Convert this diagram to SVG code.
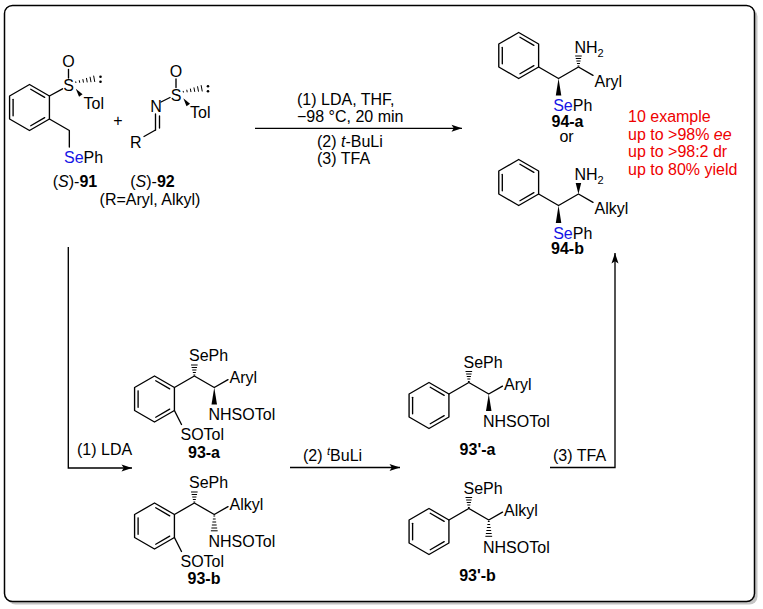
<svg xmlns="http://www.w3.org/2000/svg" xmlns:xlink="http://www.w3.org/1999/xlink" width="763" height="609" viewBox="0 0 763 609">
<style>
text{font-family:"Liberation Sans",Arial,Helvetica,sans-serif;font-size:16px;fill:#000}
.m{text-anchor:middle}
.b{font-weight:bold}
.i{font-style:italic}
.se{fill:#1515e6}
.red{fill:#ee0000}
.bd{stroke:#000;stroke-width:1.35;fill:none;stroke-linecap:round;stroke-linejoin:round}
.wd{fill:#000;stroke:none}
.cn{stroke:#000;stroke-width:1.35;fill:none}
</style>
<defs>
<marker id="ah" markerWidth="12" markerHeight="8" refX="11" refY="4" orient="auto" markerUnits="userSpaceOnUse">
<path d="M0.5,0.5 L11,4 L0.5,7.5 L2.8,4 Z" fill="#000"/>
</marker>
<g id="bz" class="bd">
<polygon points="0,-23 19.92,-11.5 19.92,11.5 0,23 -19.92,11.5 -19.92,-11.5"/>
<line x1="-16.4" y1="-8.2" x2="-16.4" y2="8.2"/>
<line x1="1.24" y1="-18.25" x2="15.18" y2="-10.2"/>
<line x1="15.18" y1="10.2" x2="1.24" y2="18.25"/>
</g>
<g id="sulf">
<line class="bd" x1="0" y1="-16" x2="0" y2="-7.5"/>
<g stroke="#000" stroke-width="1">
<line x1="7.16" y1="-4.09" x2="7.44" y2="-2.51"/>
<line x1="10.75" y1="-5.24" x2="11.21" y2="-2.72"/>
<line x1="14.34" y1="-6.39" x2="14.98" y2="-2.93"/>
<line x1="17.93" y1="-7.54" x2="18.75" y2="-3.14"/>
<line x1="21.52" y1="-8.7" x2="22.52" y2="-3.34"/>
<line x1="25.12" y1="-9.85" x2="26.28" y2="-3.55"/>
</g>
<circle cx="32" cy="-8.8" r="1.3" fill="#000"/>
<circle cx="32" cy="-3.8" r="1.3" fill="#000"/>
<polygon class="wd" points="7.3,3.3 14.06,8.68 10.54,11.32"/>
</g>
<g id="hu" stroke="#000" stroke-width="1">
<line x1="-0.9" y1="-1" x2="0.9" y2="-1"/>
<line x1="-1.5" y1="-3.5" x2="1.5" y2="-3.5"/>
<line x1="-2.1" y1="-6" x2="2.1" y2="-6"/>
<line x1="-2.7" y1="-8.5" x2="2.7" y2="-8.5"/>
<line x1="-3.3" y1="-11" x2="3.3" y2="-11"/>
</g>
<g id="hd" stroke="#000" stroke-width="1">
<line x1="-0.9" y1="1.5" x2="0.9" y2="1.5"/>
<line x1="-1.4" y1="4.5" x2="1.4" y2="4.5"/>
<line x1="-1.9" y1="7.5" x2="1.9" y2="7.5"/>
<line x1="-2.4" y1="10.5" x2="2.4" y2="10.5"/>
<line x1="-2.9" y1="13.5" x2="2.9" y2="13.5"/>
<line x1="-3.4" y1="16.3" x2="3.4" y2="16.3"/>
</g>
</defs>

<rect x="7.5" y="8.5" width="750" height="596" rx="8" fill="#c4c4c4"/>
<rect x="4.5" y="5.5" width="750" height="596" rx="8" fill="#fff" stroke="#000" stroke-width="1.5"/>

<g id="connectors">
<line class="cn" x1="255" y1="128.3" x2="462" y2="128.3" marker-end="url(#ah)"/>
<path class="cn" d="M68.3,247 V468 H132" marker-end="url(#ah)"/>
<line class="cn" x1="290" y1="467.5" x2="400" y2="467.5" marker-end="url(#ah)"/>
<path class="cn" d="M550,467.5 H615 V253" marker-end="url(#ah)"/>
</g>

<g id="conditions">
<text x="297" y="105">(1) LDA, THF,</text>
<text x="297" y="122">−98 °C, 20 min</text>
<text x="317" y="146.5">(2) <tspan class="i">t</tspan>-BuLi</text>
<text x="317" y="163.5">(3) TFA</text>
<text x="77" y="455">(1) LDA</text>
<text x="303" y="461">(2) <tspan class="i" font-size="11" dy="-6">t</tspan><tspan dy="6">BuLi</tspan></text>
<text x="553" y="461">(3) TFA</text>
</g>

<g id="c91">
<use xlink:href="#bz" href="#bz" x="29.5" y="107.5"/>
<line class="bd" x1="49.42" y1="96" x2="62.5" y2="88.8"/>
<polyline class="bd" points="49.42,119 69.34,130.5 69.34,147"/>
<use xlink:href="#sulf" href="#sulf" x="68.5" y="85.5"/>
<text class="m" x="68.5" y="66.7">O</text>
<text class="m" x="68.5" y="91.2">S</text>
<text x="83.5" y="108.5">Tol</text>
<text x="64" y="163"><tspan class="se">Se</tspan>Ph</text>
<text class="m" x="75" y="187">(<tspan class="i">S</tspan>)-<tspan class="b">91</tspan></text>
</g>

<text class="m" x="118" y="125.5">+</text>

<g id="c92">
<use xlink:href="#sulf" href="#sulf" x="176" y="95"/>
<text class="m" x="176" y="76.7">O</text>
<text class="m" x="176" y="100.7">S</text>
<text x="190" y="118">Tol</text>
<text class="m" x="156" y="112.2">N</text>
<line class="bd" x1="161" y1="102" x2="170" y2="97.5"/>
<line class="bd" x1="155.5" y1="114" x2="155.5" y2="130"/>
<line class="bd" x1="159.5" y1="116" x2="159.5" y2="128"/>
<line class="bd" x1="155.5" y1="130" x2="144" y2="136.5"/>
<text class="m" x="135.8" y="147.5">R</text>
<text class="m" x="152.5" y="187">(<tspan class="i">S</tspan>)-<tspan class="b">92</tspan></text>
<text class="m" x="150" y="205">(R=Aryl, Alkyl)</text>
</g>

<g id="c94a">
<use xlink:href="#bz" href="#bz" x="518.7" y="55.5"/>
<polyline class="bd" points="538.62,67 558.54,78.5 578.46,67 593,75.4"/>
<use xlink:href="#hu" href="#hu" x="578.46" y="67"/>
<polygon class="wd" points="558.54,78.5 555.8,95.5 561.3,95.5"/>
<text x="574.5" y="53">NH<tspan font-size="11" dy="4">2</tspan></text>
<text x="594.5" y="86.5">Aryl</text>
<text x="553.2" y="110.5"><tspan class="se">Se</tspan>Ph</text>
<text class="m b" x="567.5" y="126.5">94-a</text>
<text class="m" x="566.5" y="142">or</text>
</g>

<g id="c94b">
<use xlink:href="#bz" href="#bz" x="518.7" y="182.5"/>
<polyline class="bd" points="538.62,194 558.54,205.5 578.46,194 593,202.4"/>
<polygon class="wd" points="578.46,194 575.7,183 581.2,183"/>
<polygon class="wd" points="558.54,205.5 555.8,223 561.3,223"/>
<text x="574.5" y="180">NH<tspan font-size="11" dy="4">2</tspan></text>
<text x="594.5" y="213.5">Alkyl</text>
<text x="553.2" y="238.5"><tspan class="se">Se</tspan>Ph</text>
<text class="m b" x="567.5" y="254">94-b</text>
</g>

<g id="results">
<text class="red" x="628" y="122">10 example</text>
<text class="red" x="628" y="139.5">up to &gt;98% <tspan class="i">ee</tspan></text>
<text class="red" x="628" y="157">up to &gt;98:2 dr</text>
<text class="red" x="628" y="174.5">up to 80% yield</text>
</g>

<g id="c93a">
<use xlink:href="#bz" href="#bz" x="154.5" y="399"/>
<polyline class="bd" points="174.42,387.5 194.34,376 214.26,387.5 228,379.6"/>
<line class="bd" x1="174.42" y1="410.5" x2="181.5" y2="424.5"/>
<use xlink:href="#hu" href="#hu" x="194.34" y="376"/>
<polygon class="wd" points="214.26,387.5 211.5,404.5 217,404.5"/>
<text x="189" y="361">SePh</text>
<text x="229.5" y="383">Aryl</text>
<text x="208.5" y="420">NHSOTol</text>
<text x="180.5" y="440">SOTol</text>
<text class="m b" x="204" y="458">93-a</text>
</g>

<g id="c93b">
<use xlink:href="#bz" href="#bz" x="154.5" y="526"/>
<polyline class="bd" points="174.42,514.5 194.34,503 214.26,514.5 228,506.6"/>
<line class="bd" x1="174.42" y1="537.5" x2="181.5" y2="551.5"/>
<use xlink:href="#hu" href="#hu" x="194.34" y="503"/>
<use xlink:href="#hd" href="#hd" x="214.26" y="514.5"/>
<text x="189" y="488">SePh</text>
<text x="229.5" y="510">Alkyl</text>
<text x="208.5" y="547">NHSOTol</text>
<text x="180.5" y="567">SOTol</text>
<text class="m b" x="204" y="584">93-b</text>
</g>

<g id="c93pa">
<use xlink:href="#bz" href="#bz" x="429" y="405.5"/>
<polyline class="bd" points="448.92,394 468.84,382.5 488.76,394 502.5,386.1"/>
<use xlink:href="#hu" href="#hu" x="468.84" y="382.5"/>
<polygon class="wd" points="488.76,394 486,411 491.5,411"/>
<text x="463.5" y="367.5">SePh</text>
<text x="504" y="390">Aryl</text>
<text x="483" y="427">NHSOTol</text>
<text class="m b" x="477.5" y="455">93'-a</text>
</g>

<g id="c93pb">
<use xlink:href="#bz" href="#bz" x="429" y="531.5"/>
<polyline class="bd" points="448.92,520 468.84,508.5 488.76,520 502.5,512.1"/>
<use xlink:href="#hu" href="#hu" x="468.84" y="508.5"/>
<use xlink:href="#hd" href="#hd" x="488.76" y="520"/>
<text x="463.5" y="493.5">SePh</text>
<text x="504" y="516">Alkyl</text>
<text x="483" y="553">NHSOTol</text>
<text class="m b" x="477.5" y="581">93'-b</text>
</g>
</svg>
